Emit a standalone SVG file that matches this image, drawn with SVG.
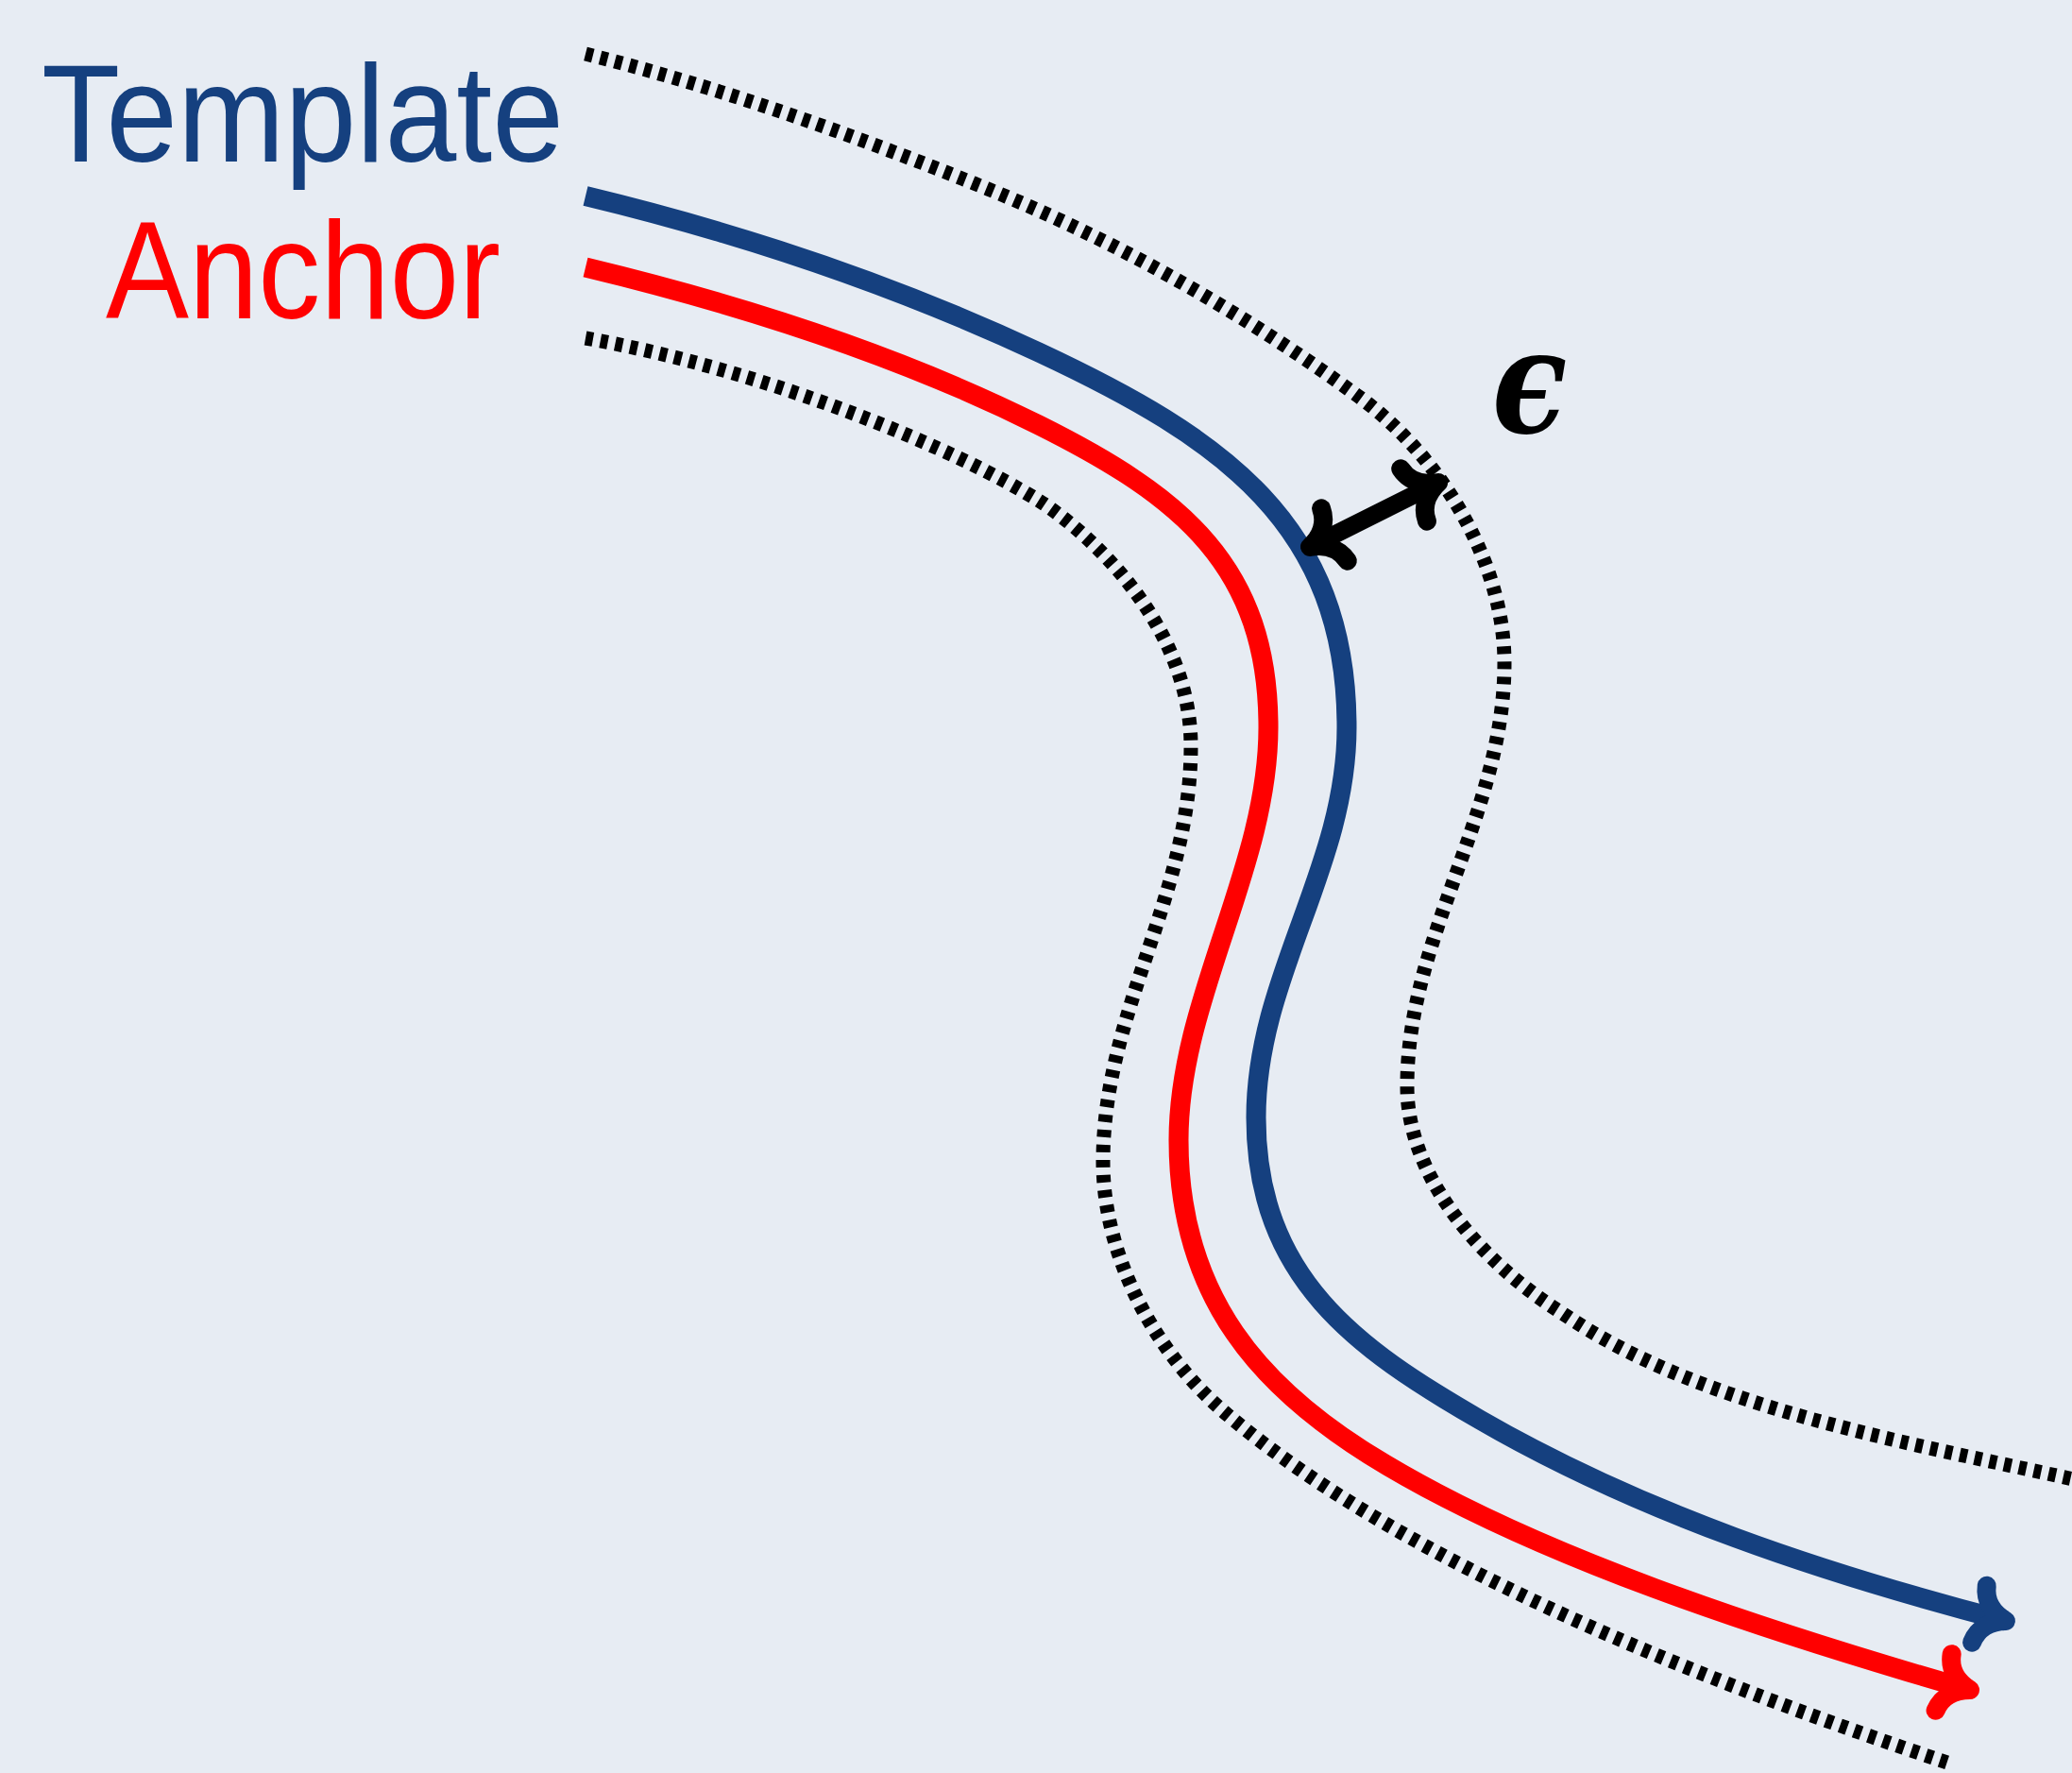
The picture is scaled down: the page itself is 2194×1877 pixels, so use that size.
<svg xmlns="http://www.w3.org/2000/svg" width="2194" height="1877" viewBox="0 0 2194 1877">
  <style>
    .bg { fill: #e7ecf3; }
    .label { font-family: "Liberation Sans", "DejaVu Sans", sans-serif; font-size: 147px; }
    .template { fill: #15407f; }
    .anchor { fill: #ff0000; }
    .eps { font-family: "DejaVu Serif", "Liberation Serif", serif; font-size: 153px; font-weight: bold; font-style: italic; fill: #000; }
    .track { fill: none; stroke-linecap: butt; }
    .blue { stroke: #15407f; stroke-width: 21; }
    .red { stroke: #ff0000; stroke-width: 21; }
    .bound { fill: none; stroke: #000; stroke-width: 15; stroke-dasharray: 8 8; }
    .gap { stroke: #000; stroke-width: 19; fill: none; }
    .tip { fill: none; stroke-width: 20; stroke-linecap: round; stroke-linejoin: round; }
  </style>
  <defs>
    <!-- curved "to"-style arrow tips, one per colour -->
    <marker id="tip-blue" markerUnits="userSpaceOnUse" orient="auto" refX="0" refY="0" markerWidth="100" markerHeight="100" viewBox="-50 -50 100 100" overflow="visible">
      <path class="tip" stroke="#15407f" d="M-29,-31 C-27,-14 -14,-4 0,0 C-14,4 -27,14 -29,31"/>
    </marker>
    <marker id="tip-red" markerUnits="userSpaceOnUse" orient="auto" refX="0" refY="0" markerWidth="100" markerHeight="100" viewBox="-50 -50 100 100" overflow="visible">
      <path class="tip" stroke="#ff0000" d="M-29,-31 C-27,-14 -14,-4 0,0 C-14,4 -27,14 -29,31"/>
    </marker>
    <marker id="tip-black" markerUnits="userSpaceOnUse" orient="auto-start-reverse" refX="0" refY="0" markerWidth="100" markerHeight="100" viewBox="-50 -50 100 100" overflow="visible">
      <path class="tip" stroke="#000" d="M-29,-31 C-27,-14 -14,-4 0,0 C-14,4 -27,14 -29,31"/>
    </marker>
  </defs>

  <rect class="bg" x="0" y="0" width="2194" height="1877"/>

  <g id="template-label">
    <text class="label template" x="44" y="171" textLength="553" lengthAdjust="spacingAndGlyphs">Template</text>
  </g>
  <g id="anchor-label">
    <text class="label anchor" x="112" y="337" textLength="418" lengthAdjust="spacingAndGlyphs">Anchor</text>
  </g>
  <g id="epsilon-label">
    <text class="eps" transform="translate(1580,458) scale(0.853,1)" x="0" y="0">ϵ</text>
  </g>

  <g id="connectors">
    <!-- tolerance band, upper edge -->
    <path class="bound" d="M620,57 C765.5,93.3 907,143.8 1046,200 C1185,256.2 1317.6,331.8 1439,420 C1525.6,482.9 1593,595 1593,702 C1593,862 1490,990 1490,1150 C1490,1247 1570,1338 1654,1390 C1800,1490 2013.5,1525.7 2200,1567"/>
    <!-- tolerance band, lower edge -->
    <path class="bound" d="M620,358 C817,392.8 1015.2,477 1100,530 C1151,562 1261,660 1261,790 C1261,950 1168,1070 1168,1230 C1168,1330 1223.4,1433.7 1300,1498 C1494.6,1661.3 1821.2,1785.5 2062,1866"/>
    <!-- template trajectory -->
    <path id="template-path" class="track blue" marker-end="url(#tip-blue)" d="M620,207.5 C784.3,247 946.8,301.6 1100,373 C1294.8,464 1426,555 1426,770 C1426,920 1330,1033 1330,1183 C1330,1353 1437,1428 1567,1503 C1739.3,1602.5 1931.4,1665.8 2124,1716"/>
    <!-- anchor trajectory -->
    <path id="anchor-path" class="track red" marker-end="url(#tip-red)" d="M620,283 C784.3,322.5 948.8,374.6 1100,450 C1252,525.8 1343,600 1343,770 C1343,920 1248,1057 1248,1207 C1248,1377 1339.8,1471.1 1450,1540 C1619.6,1646 1874.5,1728.4 2086,1789"/>
    <!-- epsilon distance marker -->
    <line id="epsilon-gap" class="gap" x1="1387" y1="579" x2="1523" y2="511" marker-start="url(#tip-black)" marker-end="url(#tip-black)"/>
  </g>
</svg>
